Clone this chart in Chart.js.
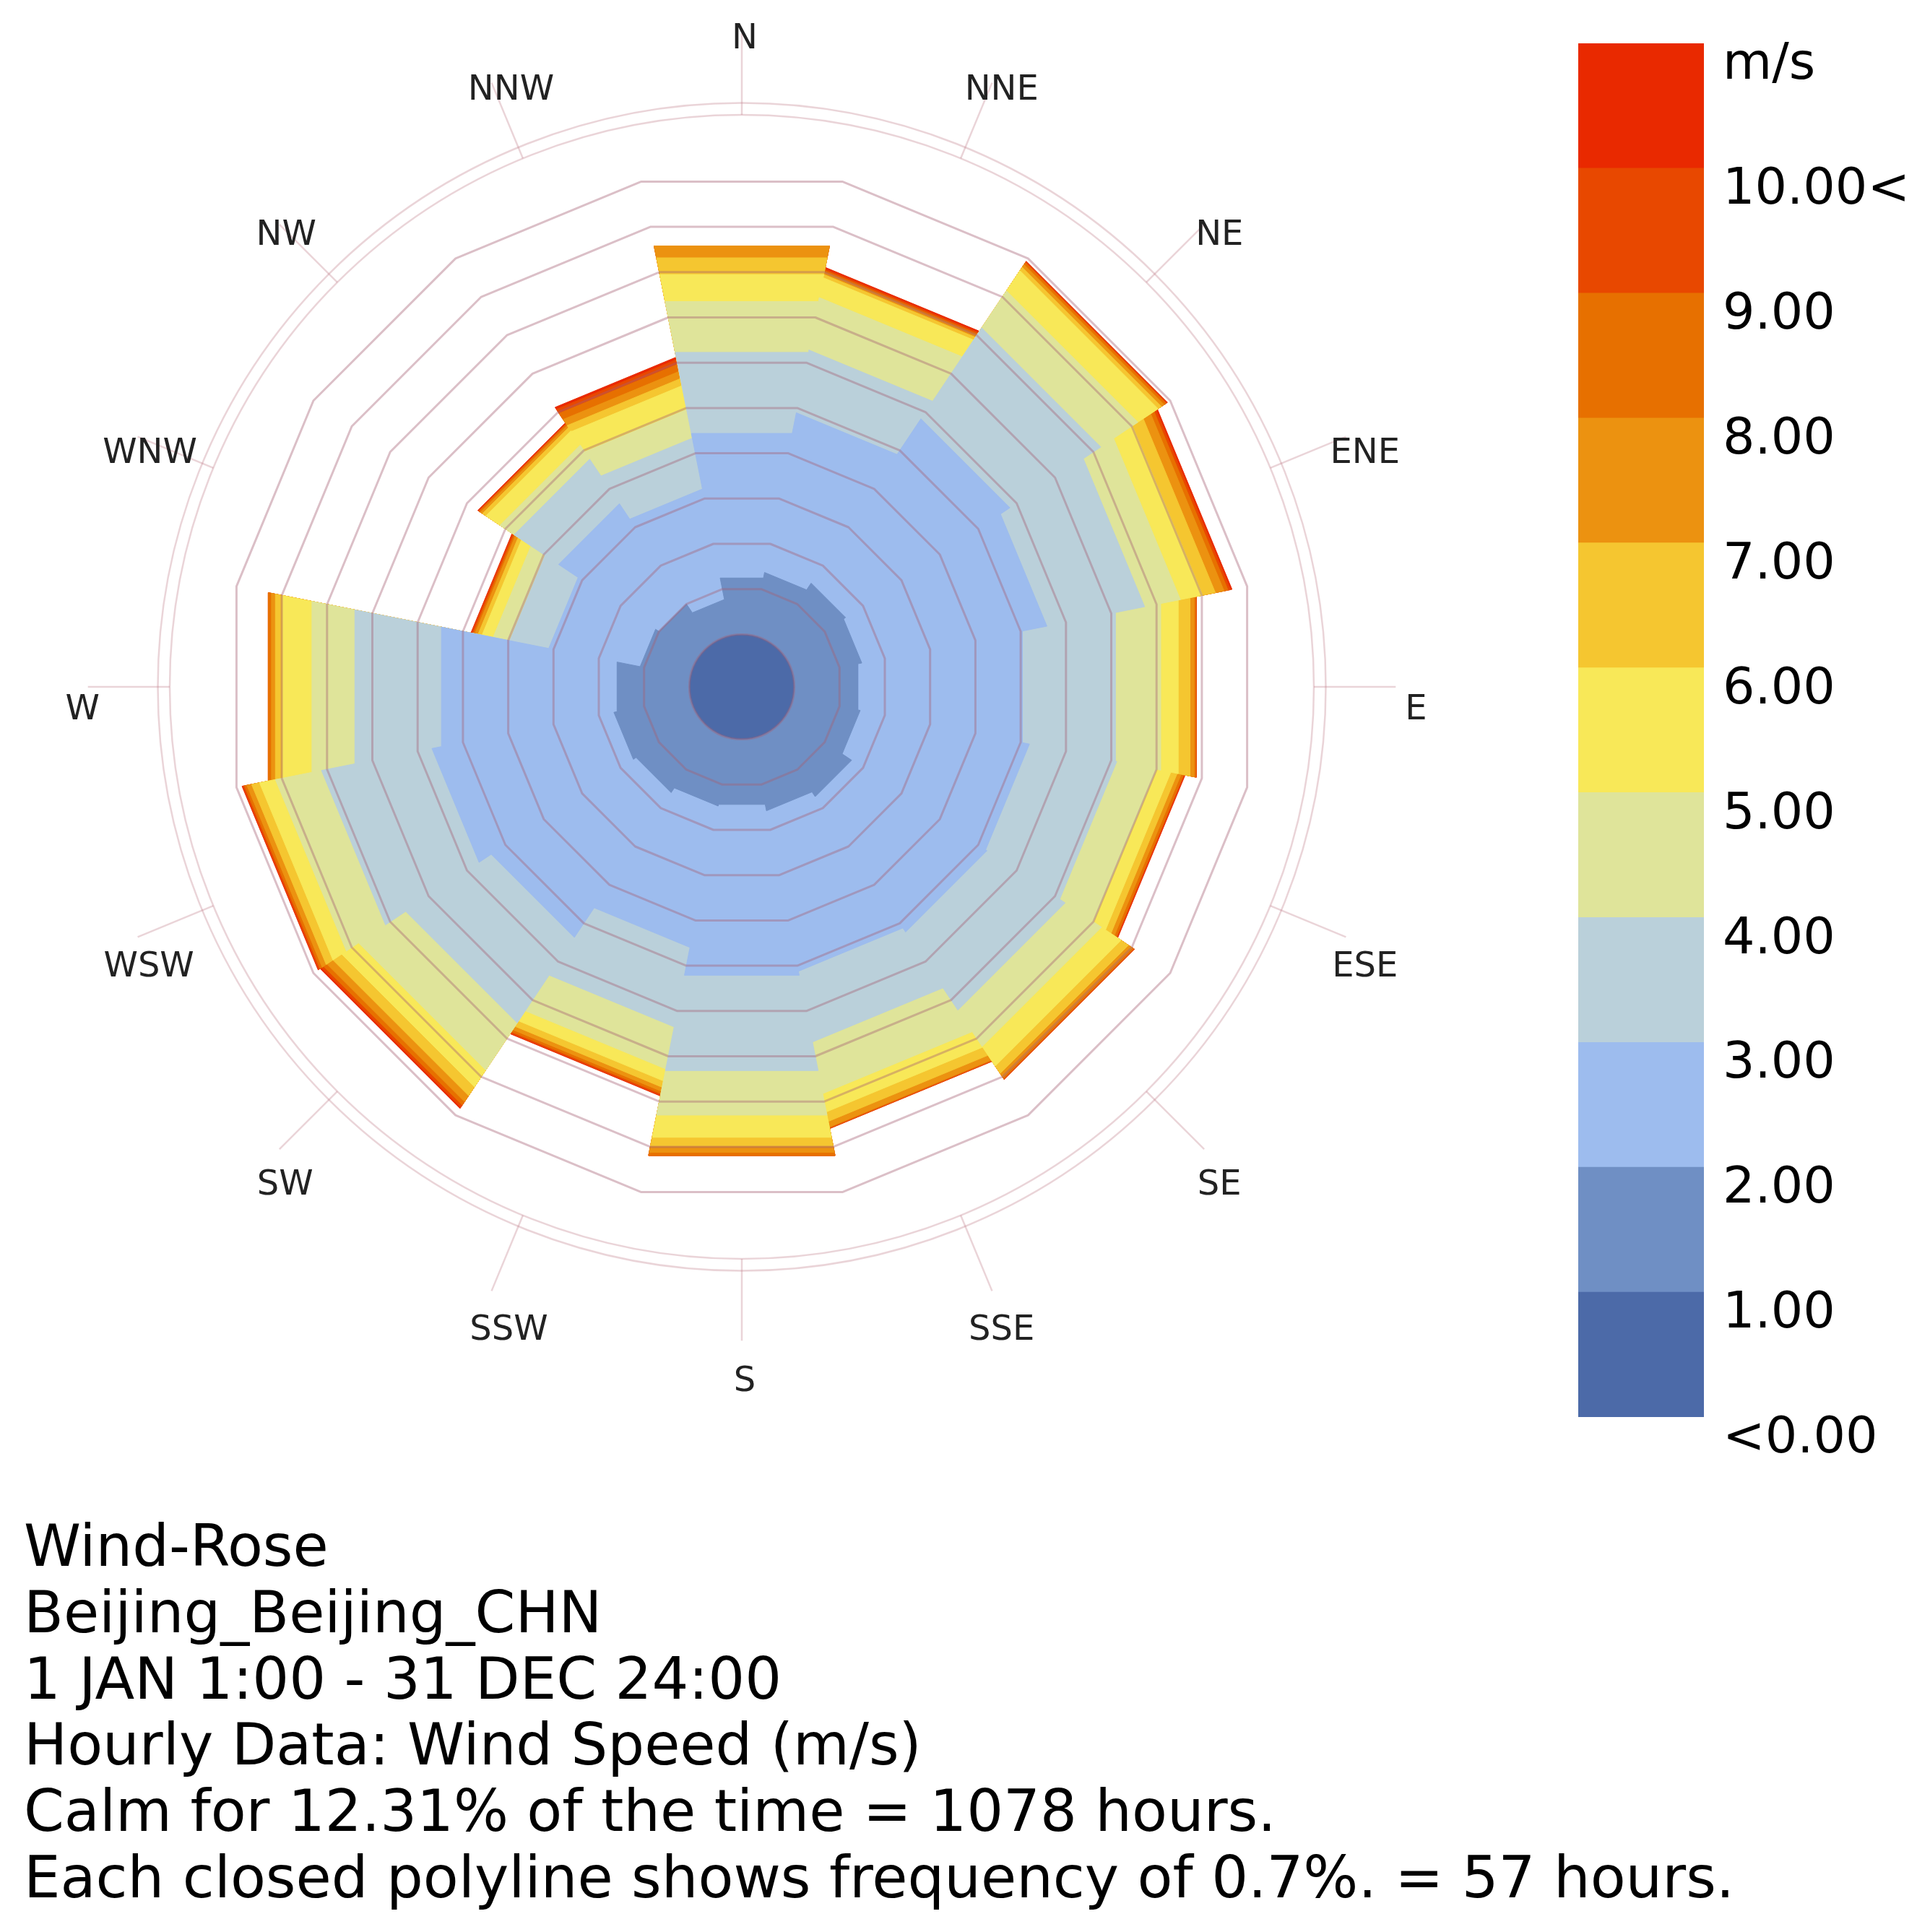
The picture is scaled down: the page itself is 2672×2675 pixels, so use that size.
<!DOCTYPE html>
<html>
<head>
<meta charset="utf-8">
<title>Wind-Rose</title>
<script src="https://cdn.jsdelivr.net/npm/chart.js@4.4.1/dist/chart.umd.min.js"></script>
<style>
	html, body { margin: 0; padding: 0; background: #fff; }
	body { width: 2672px; height: 2675px; position: relative; overflow: hidden; font-family: "DejaVu Sans", Verdana, sans-serif; }
	#rose { position: absolute; left: 0; top: 0; width: 2672px; height: 2675px; }
	#scale { position: absolute; left: 2150px; top: 0; width: 522px; height: 2060px; }
	#notes { position: absolute; left: 33px; top: 2095px; font-size: 80px; line-height: 91.8px; color: #000; white-space: nowrap; }
</style>
</head>
<body>
<canvas id="rose" width="2672" height="2675"></canvas>
<canvas id="scale" width="522" height="2060"></canvas>
<div id="notes">
	<div>Wind-Rose</div>
	<div>Beijing_Beijing_CHN</div>
	<div>1 JAN 1:00 - 31 DEC 24:00</div>
	<div>Hourly Data: Wind Speed (m/s)</div>
	<div>Calm for 12.31% of the time = 1078 hours.</div>
	<div>Each closed polyline shows frequency of 0.7%. = 57 hours.</div>
</div>
<script>
var directions = ["N", "NNE", "NE", "ENE", "E", "ESE", "SE", "SSE", "S", "SSW", "SW", "WSW", "W", "WNW", "NW", "NNW"];

// hours per direction for each wind speed band (m/s)
var speed1to2  = [71, 78, 88, 85, 80, 83, 97, 90, 82, 84, 91, 95, 91, 62, 57, 44];
var speed2to3  = [182, 201, 244, 233, 207, 213, 201, 202, 215, 178, 215, 229, 221, 115, 149, 139];
var speed3to4  = [102, 79, 135, 123, 117, 110, 116, 89, 120, 100, 127, 139, 109, 49, 66, 64];
var speed4to5  = [64, 66, 55, 45, 57, 50, 54, 65, 56, 53, 70, 58, 54, 21, 21, 36];
var speed5to6  = [34, 25, 30, 28, 22, 18, 29, 23, 28, 15, 25, 20, 37, 14, 21, 30];
var speed6to7  = [21, 4, 5, 16, 15, 8, 11, 12, 11, 8, 13, 10, 9, 5, 5, 9];
var speed7to8  = [15, 3, 4, 11, 5, 5, 6, 7, 8, 5, 9, 6, 5, 4, 3, 9];
var speed8to9  = [0, 2, 3, 5, 2, 3, 2, 1, 4, 3, 5, 3, 4, 2, 2, 9];
var speed9to10 = [0, 2, 1, 3, 1, 1, 1, 1, 0, 2, 3, 2, 0, 2, 1, 6];
var speed10up  = [0, 2, 1, 2, 0, 1, 0, 0, 0, 1, 2, 1, 0, 1, 1, 3];

var speedTicks = ["<0.00", "1.00", "2.00", "3.00", "4.00", "5.00", "6.00", "7.00", "8.00", "9.00", "10.00<", "m/s"];
var ringHours = 57;
var ringCount = 10;
var calmRadius = 66;

var binColors = ["#4c6aa8", "#6f8fc4", "#9dbcee", "#bad0da", "#dfe49a", "#f8e858", "#f5c630", "#ec9210", "#e77000", "#e84800", "#e92900"];
var bands = [speed1to2, speed2to3, speed3to4, speed4to5, speed5to6, speed6to7, speed7to8, speed8to9, speed9to10, speed10up];

// page geometry of the rose
var unitPx = 1.1;
var centerX = 1027, centerY = 951;
var HALF = Math.PI / 16;
var SEC = 1 / Math.cos(HALF);

function outline(apothems) {
	var pts = [];
	for (var d = 0; d < 16; d++) {
		var a = d * Math.PI / 8;
		var r = apothems[d] * SEC;
		pts.push({x: r * Math.sin(a - HALF), y: r * Math.cos(a - HALF)});
		pts.push({x: r * Math.sin(a + HALF), y: r * Math.cos(a + HALF)});
	}
	pts.push(pts[0]);
	return pts;
}

var cum = directions.map(function () { return calmRadius; });
var roseSets = [];
for (var b = 0; b < bands.length; b++) {
	for (var d = 0; d < 16; d++) cum[d] += bands[b][d];
	roseSets.push({
		label: speedTicks[b + 1],
		data: outline(cum),
		showLine: true,
		fill: "shape",
		backgroundColor: binColors[b + 1],
		borderColor: binColors[b + 1],
		borderWidth: 1,
		pointRadius: 0,
		tension: 0,
	});
}

var roseFrame = {
	id: "roseFrame",
	afterDatasetsDraw: function (chart) {
		var ctx = chart.ctx, xs = chart.scales.x, ys = chart.scales.y;
		var cx = xs.getPixelForValue(0), cy = ys.getPixelForValue(0);
		function pt(r, a) { return [xs.getPixelForValue(r * Math.sin(a)), ys.getPixelForValue(r * Math.cos(a))]; }
		function rad(r) { return xs.getPixelForValue(r) - cx; }
		ctx.save();
		ctx.lineJoin = "round";
		ctx.strokeStyle = "rgba(165, 95, 115, 0.4)";
		ctx.lineWidth = 3;
		for (var k = 1; k <= ringCount; k++) {
			ctx.beginPath();
			for (var i = 0; i < 16; i++) {
				var p = pt((calmRadius + k * ringHours) * SEC, HALF + i * Math.PI / 8);
				if (i == 0) ctx.moveTo(p[0], p[1]); else ctx.lineTo(p[0], p[1]);
			}
			ctx.closePath();
			ctx.stroke();
		}
		ctx.beginPath();
		ctx.arc(cx, cy, rad(calmRadius), 0, Math.PI * 2);
		ctx.fillStyle = binColors[0];
		ctx.fill();
		ctx.stroke();
		ctx.lineWidth = 2.5;
		ctx.strokeStyle = "rgba(190, 120, 135, 0.32)";
		[720, 735].forEach(function (r) {
			ctx.beginPath();
			ctx.arc(cx, cy, rad(r), 0, Math.PI * 2);
			ctx.stroke();
		});
		ctx.font = '48px "DejaVu Sans"';
		ctx.fillStyle = "#222";
		ctx.textAlign = "center";
		ctx.textBaseline = "middle";
		for (var j = 0; j < 16; j++) {
			var a = j * Math.PI / 8;
			var p1 = pt(720, a), p2 = pt(823, a), p3 = pt(845, a);
			ctx.beginPath();
			ctx.moveTo(p1[0], p1[1]);
			ctx.lineTo(p2[0], p2[1]);
			ctx.stroke();
			var w = ctx.measureText(directions[j]).width;
			var nudge = 4 + (Math.sin(a) < -0.1 ? 0.27 * w : 0);
			ctx.fillText(directions[j], p3[0] + nudge, p3[1] + 33);
		}
		ctx.restore();
	},
};

new Chart(document.getElementById("rose"), {
	type: "scatter",
	data: { datasets: roseSets },
	options: {
		responsive: false,
		animation: false,
		events: [],
		layout: { padding: 0, autoPadding: false },
		plugins: { legend: { display: false }, tooltip: { enabled: false } },
		scales: {
			x: { type: "linear", display: false, min: -centerX / unitPx, max: (2672 - centerX) / unitPx },
			y: { type: "linear", display: false, min: -(2675 - centerY) / unitPx, max: centerY / unitPx },
		},
	},
	plugins: [roseFrame],
});

var scaleSets = [];
for (var s = 0; s < binColors.length; s++) {
	scaleSets.push({
		label: speedTicks[s],
		data: [[s, s + 1]],
		backgroundColor: binColors[s],
		borderWidth: 0,
		barPercentage: 1,
		categoryPercentage: 1,
		grouped: false,
	});
}

new Chart(document.getElementById("scale"), {
	type: "bar",
	data: { labels: ["m/s"], datasets: scaleSets },
	options: {
		responsive: false,
		animation: false,
		events: [],
		layout: { padding: { left: 35, top: 42, bottom: 98, right: 0 }, autoPadding: false },
		plugins: { legend: { display: false }, tooltip: { enabled: false } },
		scales: {
			x: { display: false },
			y: {
				position: "right",
				min: 0,
				max: 11,
				afterFit: function (scale) { scale.width = 313; },
				grid: { display: false },
				border: { display: false },
				ticks: {
					stepSize: 1,
					autoSkip: false,
					padding: 18,
					labelOffset: 31,
					color: "#000",
					font: { family: "DejaVu Sans", size: 70 },
					callback: function (v) { return speedTicks[v]; },
				},
			},
		},
	},
});
</script>
</body>
</html>
